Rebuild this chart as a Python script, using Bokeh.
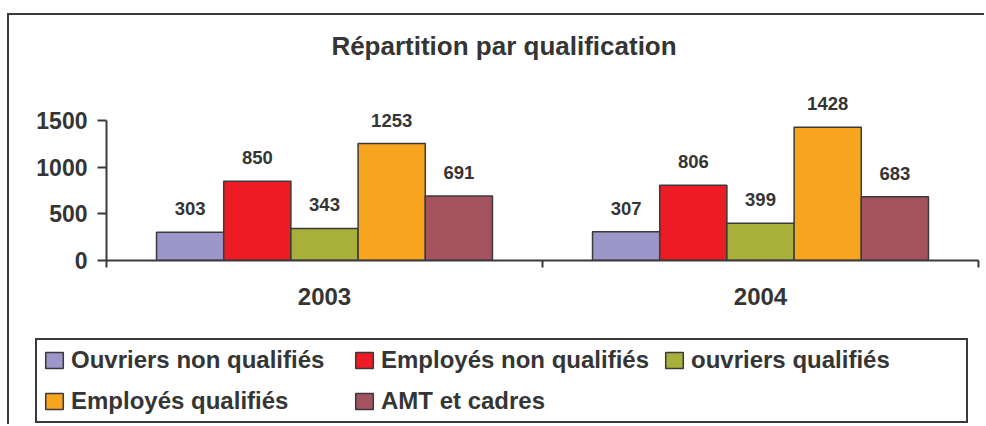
from bokeh.plotting import figure
from bokeh.layouts import column
from bokeh.models import (Range1d, LinearAxis, FixedTicker, Label,
                          ColumnDataSource, LabelSet, Legend, LegendItem)
from bokeh.transform import dodge
from bokeh.core.properties import value
from bokeh.embed import file_html
from bokeh.resources import INLINE

# ---- data ----
years = ["2003", "2004"]
series = ["Ouvriers non qualifiés", "Employés non qualifiés", "ouvriers qualifiés",
          "Employés qualifiés", "AMT et cadres"]
ouvriers_non_qualifies = [303, 307]
employes_non_qualifies = [850, 806]
ouvriers_qualifies = [343, 399]
employes_qualifies = [1253, 1428]
amt_et_cadres = [691, 683]
colors = ["#9D96C9", "#ED1C24", "#A8AF3A", "#F7A51E", "#A5525F"]
y_ticks = [0, 500, 1000, 1500]
title_text = "Répartition par qualification"

values = [ouvriers_non_qualifies, employes_non_qualifies, ouvriers_qualifies,
          employes_qualifies, amt_et_cadres]

FONT = "Liberation Sans"
TXT = "#353535"
LINE = "#3a3a3a"

ngroups = len(years)
p = figure(width=977, height=315,
           x_range=Range1d(0, ngroups),
           y_range=Range1d(0, 2625),
           output_backend="svg", toolbar_location=None,
           x_axis_location=None, y_axis_location=None,
           min_border_left=97, min_border_right=8, min_border_top=0, min_border_bottom=70)
p.frame_align = False
p.outline_line_color = None
p.background_fill_color = "white"
p.border_fill_color = "white"
for g in p.grid:
    g.visible = False

p.add_layout(Label(x=397.5, y=215, x_units="screen", y_units="screen", text=title_text,
                   text_align="center", text_baseline="alphabetic", text_font=FONT,
                   text_font_style="bold", text_font_size="26px", text_color=TXT))

# group axis (boundary ticks + year labels)
centers = [i + 0.5 for i in range(ngroups)]
xaxis = LinearAxis(
    ticker=FixedTicker(ticks=centers, minor_ticks=list(range(ngroups + 1))),
    major_label_overrides={c: y for c, y in zip(centers, years)},
    axis_line_color=LINE, axis_line_width=2,
    major_tick_line_color=None, major_tick_out=0, major_tick_in=0,
    minor_tick_line_color=LINE, minor_tick_line_width=2, minor_tick_out=7, minor_tick_in=0,
    major_label_text_font=FONT, major_label_text_font_style="bold",
    major_label_text_font_size="24px", major_label_text_color=TXT,
    major_label_standoff=20)
p.add_layout(xaxis, "below")

yaxis = LinearAxis(
    ticker=FixedTicker(ticks=y_ticks), bounds=(y_ticks[0], y_ticks[-1]),
    axis_line_color=LINE, axis_line_width=2,
    major_tick_line_color=LINE, major_tick_line_width=2, major_tick_out=9, major_tick_in=0,
    minor_tick_line_color=None,
    major_label_text_font=FONT, major_label_text_font_style="bold",
    major_label_text_font_size="23px", major_label_text_color=TXT,
    major_label_standoff=10)
p.add_layout(yaxis, "left")

# bars
data = {"year": years, "xc": centers}
for i, vals in enumerate(values):
    data[f"v{i}"] = vals
    data[f"t{i}"] = [str(v) for v in vals]
src = ColumnDataSource(data)

W = 0.1541
n = len(series)
for i, name in enumerate(series):
    off = (i - (n - 1) / 2) * W
    p.vbar(x=dodge("xc", off), top=f"v{i}", width=W, source=src,
           fill_color=colors[i], line_color=LINE, line_width=1.5)
    p.add_layout(LabelSet(x=dodge("xc", off), y=f"v{i}", text=f"t{i}",
                          source=src, y_offset=17, text_align="center",
                          text_baseline="alphabetic", text_font=value(FONT),
                          text_font_style=value("bold"), text_font_size=value("18.5px"),
                          text_color=TXT))

# legend panel (separate figure below the chart); its renderers are hidden,
# they only provide the legend swatches
pl = figure(width=977, height=96, x_range=Range1d(0, ngroups), y_range=Range1d(0, 1800),
            output_backend="svg", toolbar_location=None,
            x_axis_location=None, y_axis_location=None,
            min_border_left=0, min_border_right=0, min_border_top=0, min_border_bottom=0)
pl.frame_align = False
pl.outline_line_color = None
pl.background_fill_color = "white"
pl.border_fill_color = "white"
for g in pl.grid:
    g.visible = False
items = []
for i, name in enumerate(series):
    off = (i - (n - 1) / 2) * W
    r = pl.vbar(x=dodge("xc", off), top=f"v{i}", width=W, source=src,
                fill_color=colors[i], line_color=LINE, line_width=1.5)
    r.visible = False
    items.append(LegendItem(label=name, renderers=[r]))

legend = Legend(items=items, location=(26, 3), orientation="horizontal", ncols=3,
                glyph_width=22, glyph_height=20, label_standoff=6, label_width=269,
                label_height=28, spacing=13, padding=6, margin=0,
                border_line_color=LINE, border_line_width=2, border_line_alpha=1,
                background_fill_color="white", background_fill_alpha=1,
                inactive_fill_alpha=0, click_policy="none",
                label_text_font=FONT, label_text_font_style="bold",
                label_text_font_size="24px", label_text_color=TXT)
pl.add_layout(legend, "center")

layout = column(p, pl, spacing=0)
# outer chart frame (top and left edges)
layout.styles = {"transform": "translate(9px, 15px)",
                 "box-shadow": "-2px -2px 0px 0px #3a3a3a"}

open("out.html", "w").write(file_html(layout, INLINE))
